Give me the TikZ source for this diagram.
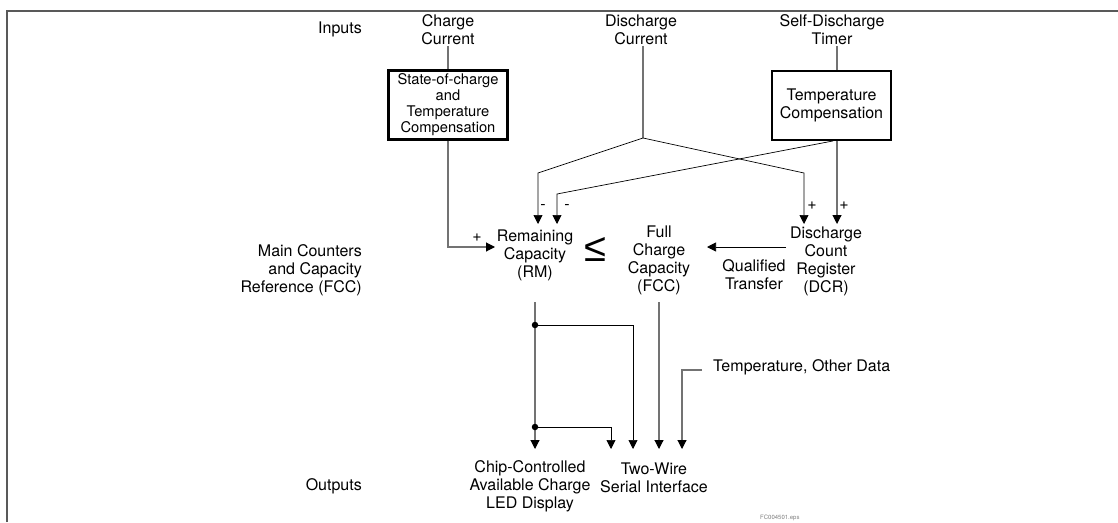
\documentclass[tikz,border=0pt]{standalone}
\usepackage{fontspec}
\setmainfont{TeX Gyre Heros}
\newfontfamily\symfont{Liberation Sans}
\usetikzlibrary{arrows.meta}
\begin{document}
\begin{tikzpicture}[x=1pt,y=-1pt,
 txt/.style={font=\fontsize{16}{18}\selectfont, align=center, inner sep=1pt},
 gline/.style={draw=black!55, line width=1.1pt},
 bline/.style={draw=black, line width=0.7pt},
 arr/.style={-{Triangle[length=9pt,width=9pt,color=black]}},
 cbox/.style={draw, line width=2.4pt, inner sep=0pt, align=center},
 sign/.style={font=\fontsize{16}{16}\selectfont, inner sep=0pt},
 jdot/.style={circle, fill, inner sep=0pt, minimum size=6.5pt}]
\useasboundingbox (0,0) rectangle (1118,522);
% frame
\draw[draw=black!65, line width=1.5pt] (7,522) -- (7,11) -- (1118,11);
% text nodes
\node[txt, anchor=east] (inputs) at (363,29) {Inputs};
\node[txt] (chg) at (448,29.5) {Charge\\Current};
\node[cbox, minimum width=119pt, minimum height=69pt, font=\fontsize{14.7}{16}\selectfont] (soc) at (448,105) {State-of-charge\\and\\Temperature\\Compensation};
\node[txt] (dis) at (641,29.5) {Discharge\\Current};
\node[txt] (sdt) at (832,29.5) {Self-Discharge\\Timer};
\node[cbox, minimum width=118.5pt, minimum height=68.5pt, font=\fontsize{16}{18}\selectfont] (tc) at (831.5,105.5) {Temperature\\Compensation};
\node[txt] (rm) at (535,255) {Remaining\\Capacity\\(RM)};
\node[font=\symfont\fontsize{40}{40}\selectfont, inner sep=0pt] (le) at (595,249) {≤};
\node[txt] (fcc) at (659,260) {Full\\Charge\\Capacity\\(FCC)};
\node[txt] (dcr) at (826,261) {Discharge\\Count\\Register\\(DCR)};
\node[txt] (qt) at (754,274.5) {Qualified\\Transfer};
\node[txt, anchor=east, align=right] (mc) at (363,270.5) {Main Counters\\and Capacity\\Reference (FCC)};
\node[txt, anchor=west] (tod) at (712,367) {Temperature, Other Data};
\node[txt] (chip) at (530,486) {Chip-Controlled\\Available Charge\\LED Display};
\node[txt] (tw) at (654,477.5) {Two-Wire\\Serial Interface};
\node[txt, anchor=east] (outs) at (363,486) {Outputs};
\node[font=\fontsize{6}{6}\selectfont, text=black!50, anchor=north west, inner sep=0pt] (fc) at (760,515) {FC004501.eps};
% coordinates
\coordinate (dj) at (643,138);
\coordinate (ka) at (538,173);
\coordinate (kb) at (804,173);
\coordinate (kc) at (557,194);
\coordinate (rmA) at (538,224);
\coordinate (rmB) at (557,224);
\coordinate (dcrA) at (804,224);
\coordinate (dcrB) at (837,224);
\coordinate (rmP) at (495,247);
\coordinate (fccIn) at (707,247);
\coordinate (dcrOut) at (786,247);
\coordinate (rmBot) at (535,302);
\coordinate (fccBot) at (659,302);
\coordinate (d1) at (535,325);
\coordinate (d2) at (535,427);
\coordinate (oRM) at (535,449);
\coordinate (o2) at (611,449);
\coordinate (o3) at (633,449);
\coordinate (o4) at (659,449);
\coordinate (o5) at (682,449);
\coordinate (todL) at (702,370);
% input connectors
\draw[gline] (chg.south) -- (soc.north);
\draw[gline, arr] (soc.south) |- (rmP);
\draw[gline] (dj |- dis.south) -- (dj);
\draw[bline, arr] (dj) -- (ka) -- (rmA);
\draw[bline, arr] (dj) -- (kb) -- (dcrA);
\draw[gline] (dcrB |- sdt.south) -- (dcrB |- tc.north);
\draw[bline, arr] ([xshift=1.5pt]tc.south) -- (kc) -- (rmB);
\draw[gline, arr] (dcrB |- tc.south) -- (dcrB);
\draw[bline, arr] (dcrOut) -- (fccIn);
% signs
\node[sign] (s1) at (477,238) {+};
\node[sign] (s2) at (543,207) {-};
\node[sign] (s3) at (567,207) {-};
\node[sign] (s4) at (812,206) {+};
\node[sign] (s5) at (844,206) {+};
% output connectors
\draw[gline, arr] (rmBot) -- (oRM);
\draw[bline, arr] (d1) -| (o3);
\draw[bline, arr] (d2) -| (o2);
\draw[gline, arr] (fccBot) -- (o4);
\draw[gline, arr] (todL) -| (o5);
\node[jdot] (dot1) at (d1) {};
\node[jdot] (dot2) at (d2) {};
\end{tikzpicture}
\end{document}
